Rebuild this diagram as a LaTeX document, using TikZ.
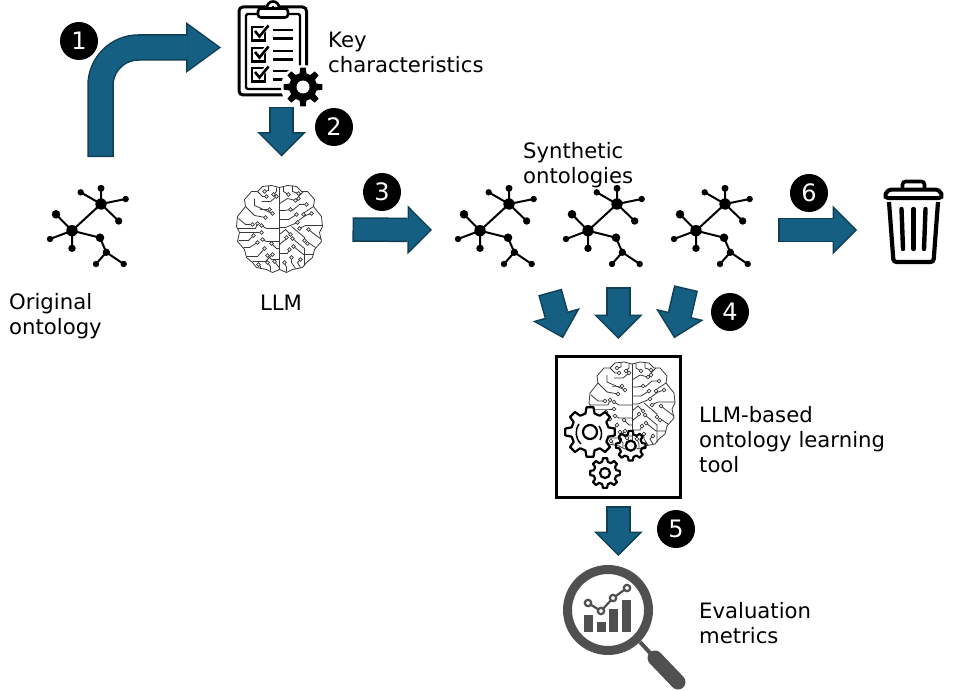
\documentclass[tikz,border=0pt]{standalone}
\usepackage{fontspec}
\setmainfont{DejaVu Sans}
\usepackage{xcolor}
\definecolor{FlowBlue}{HTML}{156082}
\definecolor{FlowEdge}{HTML}{0F3F55}
\definecolor{LensGray}{HTML}{505050}
\definecolor{WireGray}{HTML}{3A3A3A}
\usetikzlibrary{arrows.meta,positioning}

\tikzset{
  iconbox/.style={inner sep=0pt, outer sep=0pt},
  caption/.style={anchor=west, align=left, inner sep=0pt, font=\fontsize{21.2}{25}\selectfont},
  badge/.style={circle, fill=black, text=white, inner sep=0pt, minimum size=38pt, font=\fontsize{24}{24}\selectfont},
  flowarrow/.style 2 args={draw=FlowBlue, line width=21.5pt, shorten <=#1pt+1.5pt, shorten >=#2pt+2.1pt,
    -{Triangle[length=20.9pt,width=41.8pt,line width=0pt]},
    preaction={draw=FlowEdge, line width=24.5pt, shorten <=#1pt, shorten >=#2pt,
      -{Triangle[length=24.5pt,width=49pt,line width=0pt]}}},
  bentarrow/.style 2 args={draw=FlowBlue, line width=23.5pt, rounded corners=38pt, shorten <=#1pt+1.5pt, shorten >=#2pt+2.5pt,
    -{Triangle[length=31pt,width=45.2pt,line width=0pt]},
    preaction={draw=FlowEdge, line width=26.5pt, shorten <=#1pt, shorten >=#2pt,
      -{Triangle[length=35pt,width=51pt,line width=0pt]}}},
  wire/.style={WireGray, line width=.8pt},
  pics/ontology/.style={code={
    \draw[line width=2pt] (-15,0.7) -- (14,-26) (-6.3,-37.7) -- (14,-26) -- (14,-41.7) (38.7,-31) -- (14,-26) -- (31.7,-9);
    \draw[line width=2pt] (-31,-15.7) -- (-15,0.7) -- (-37,9) (-15,18.3) -- (-15,0.7) -- (13,7.7) -- (19.3,22.3) -- (9,34) (19.3,22.3) -- (36.7,34);
    \foreach \x/\y/\r in {-15/0.7/5.7, 14/-26/5.7, -6.3/-37.7/3.2, 14/-41.7/3.5, 38.7/-31/3.2, 31.7/-9/3.7,
      -31/-15.7/4.3, -37/9/3.2, -15/18.3/3.7, 13/7.7/4.3, 19.3/22.3/3.7, 9/34/3.2, 36.7/34/3.2}
      \fill (\x,\y) circle (\r pt);
  }},
  pics/brain/.style={code={
    \draw[wire, fill=white, line join=round] (0,-42) -- (-8,-44) -- (-17,-43) -- (-22,-38) -- (-28,-38) -- (-35,-30) -- (-34,-23) -- (-42,-13) -- (-43,-3) -- (-40,3) -- (-42,12) -- (-35,20) -- (-33,28) -- (-27,33) -- (-23,38) -- (-13,40) -- (-7,43) -- (0,40)
      -- (7,43) -- (13,40) -- (23,38) -- (27,33) -- (33,28) -- (35,20) -- (42,12) -- (40,3) -- (43,-3) -- (42,-13) -- (34,-23) -- (35,-30) -- (28,-38) -- (22,-38) -- (17,-43) -- (8,-44) -- cycle;
    \draw[wire] (0,-42) -- (0,40);
    % left half, then right half
    \foreach \ax/\ay/\bx/\by/\cx/\cy in {-22/-38/-17/-33/-13/-33, -11/-44/-11/-39/-15/-38, -3/-42/-3/-38/-6/-35,
      -25/-31/-25/-24/-7/-16, -18/-28/-9/-28/-3/-33, -34/-23/-25/-14/-14/-12, -20/-20/-13/-20/-10/-20,
      -41/-11/-34/-5/-27/-5, -42/-1/-24/-1/-22/-6, 0/-1/-13/-1/-18/-4, -40/3/-26/3/-18/3,
      -41/11/-31/11/-26/6, -36/18/-30/18/-22/13, 0/12/-13/12/-17/10, -33/27/-22/27/-15/19,
      0/19/-3/19/-8/14, -27/32/-14/32/-7/25, 0/30/-8/30/-12/26, -19/39/-19/37/-21/35, -9/41/-9/37/-12/33, 0/38/-2/36/-5/32,
      4/-43/4/-38/9/-35, 13/-44/13/-38/19/-36, 24/-38/19/-33/19/-31, 0/-26/8/-31/16/-29,
      0/-19/5/-19/11/-20, 13/-19/20/-25/27/-25, 34/-23/25/-17/24/-15, 0/-10/9/-10/17/-15, 19/-9/26/-14/32/-16,
      0/-2/6/-2/18/-7, 43/-4/26/-4/20/-1, 0/5/6/0/11/5, 12/-3/25/8/25/11, 42/10/34/4/29/0,
      36/18/30/14/28/14, 0/15/6/10/7/8, 34/25/24/25/14/17, 0/24/8/24/10/20, 25/36/25/19/13/9, 16/39/12/33/12/28,
      7/42/7/38/5/33, 21/38/18/33/21/30}
      { \draw[wire] (\ax,\ay) -- (\bx,\by) -- (\cx,\cy); \draw[wire, fill=white] (\cx,\cy) circle (1.9pt); }
  }},
  pics/gear/.style n args={3}{code={
    \path[pic actions, line join=round] (-14:#2) \foreach \a in {0,45,...,315} { -- ({\a-14}:#2) -- ({\a-8}:#1) -- ({\a+8}:#1) -- ({\a+14}:#2) } -- cycle;
    \path[pic actions, fill=white] (0,0) circle (#3pt);
  }},
  pics/checklist/.style={code={
    \draw[line width=3pt, rounded corners=4pt] (-42.5,-46.5) rectangle (25,41.5);
    \draw[line width=2.4pt, rounded corners=1.5pt] (-35.5,-39.5) rectangle (18.5,35.5);
    \draw[line width=2.6pt, fill=white] (-8.5,-46) circle (6pt);
    \draw[line width=2.6pt, fill=white, rounded corners=3pt] (-23.5,-45) rectangle (6.5,-36);
    \fill (-8.5,-46) circle (1.8pt);
    \foreach \y in {-26.5,-5.5,14.5} {
      \draw[line width=2.5pt] (-29.5,\y) rectangle (-16.5,\y+13.5);
      \draw[white, line width=4.5pt] (-13,\y-2) -- (-20,\y+6);
      \draw[line width=2.6pt] (-26.5,\y+4) -- (-22,\y+9.5) -- (-13,\y-1.5);
      \draw[line width=2.6pt] (-8.5,\y+3) -- (11.5,\y+3) (-8.5,\y+11.3) -- (11.5,\y+11.3);
    }
    \fill[white] (21.5,33.5) circle (22pt);
    \pic[fill=black] at (21.5,33.5) {gear={19.5}{14}{6.5}};
  }},
  pics/trashcan/.style={code={
    \draw[line width=3.6pt, rounded corners=3pt] (-11,-42) -- (-11,-48.5) -- (11,-48.5) -- (11,-42);
    \draw[line width=4pt, rounded corners=4pt, fill=white] (-29.5,-32) -- (-26,-40.5) -- (26,-40.5) -- (29.5,-32) -- cycle;
    \draw[line width=4.2pt, rounded corners=3pt] (-24.5,-28) -- (-20,32) -- (20,32) -- (24.5,-28);
    \foreach \t/\b in {-12/-10.5, 0/0, 12/10.5}
      \draw[line width=4.4pt, line cap=round] (\t,-21) -- (\b,19);
  }},
  pics/lens/.style={code={
    \draw[LensGray, line width=9pt] (-17,-17) circle (40.5pt);
    \draw[LensGray, line width=4pt] (15,15) -- (27,28);
    \draw[LensGray, line width=15pt, line cap=round] (30,31) -- (53,55);
    \foreach \l/\t in {-41/-12, -28/-5, -16/-18, -3/-27}
      \fill[LensGray] (\l,\t) rectangle (\l+9,5);
    \draw[LensGray, line width=2.2pt] (-37,-24) -- (-24,-16) -- (-12,-29) -- (2,-39);
    \foreach \x/\y in {-37/-24, -24/-16, -12/-29, 2/-39}
      \draw[LensGray, line width=2.2pt, fill=white] (\x,\y) circle (3.2pt);
  }}
}

\begin{document}
\begin{tikzpicture}[x=1pt, y=-1pt]
  \useasboundingbox (0,0) rectangle (957,690);
  % icons
  \node[iconbox, minimum width=80pt, minimum height=90pt] (orig) at (87,230) {};
  \node[iconbox, minimum width=87pt, minimum height=103pt] (kc) at (281.5,53.5) {};
  \node[iconbox, minimum width=86pt, minimum height=88pt] (llm) at (279.5,229.5) {};
  \node[iconbox, minimum width=80pt, minimum height=90pt] (syn1) at (495,230) {};
  \node[iconbox, minimum width=80pt, minimum height=90pt] (syn2) at (603,230) {};
  \node[iconbox, minimum width=80pt, minimum height=90pt] (syn3) at (711,230) {};
  \node[iconbox, minimum width=63pt, minimum height=100pt] (bin) at (913.5,230) {};
  \node[draw, line width=3pt, minimum width=123.7pt, minimum height=141pt, inner sep=0pt] (tool) at (618.3,427) {};
  \node[iconbox, minimum width=125pt, minimum height=124pt] (metrics) at (625,627) {};

  \pic at (orig) {ontology};
  \pic at (kc) {checklist};
  \pic at (llm) {brain};
  \pic at (syn1) {ontology};
  \pic at (syn2) {ontology};
  \pic at (syn3) {ontology};
  \pic at (bin) {trashcan};
  \pic at (metrics) {lens};

  \pic at (632,406) {brain};
  \pic[draw=black, fill=white, line width=2.2pt] at (590,432) {gear={25}{19}{7}};
  \draw[line width=1.5pt] (579,424) to[bend right=40] (581,444);
  \draw[line width=1.5pt] (599,426) to[bend left=30] (600,440);
  \pic[draw=black, line width=2.2pt] at (630.7,445.7) {gear={15}{11.5}{5}};
  \pic[draw=black, fill=white, line width=2.2pt] at (605,473) {gear={15}{11.5}{5}};

  % flow
  \draw[bentarrow={28}{17}] ([xshift=13.5pt]orig.north) |- ([yshift=6pt]kc.west);
  \draw[flowarrow={2}{29}] (kc.south) -- (kc.south |- llm.north);
  \draw[flowarrow={30}{23}] (llm.east) -- (syn1.west);
  \draw[flowarrow={27}{25}] (syn3.east) -- (bin.west);
  \draw[flowarrow={17.6}{17.4}] ([xshift=50.3pt]syn1.south) -- ([xshift=-50.7pt]tool.north);
  \draw[flowarrow={12}{16}] (syn2.south -| tool.north) -- (tool.north);
  \draw[flowarrow={13.4}{17.2}] ([xshift=-21.9pt]syn3.south) -- ([xshift=52pt]tool.north);
  \draw[flowarrow={7}{9}] (tool.south) -- (tool.south |- metrics.north);

  % step numbers
  \node[badge] (one) at (79,41) {1};
  \node[badge] (two) at (334,127) {2};
  \node[badge] (three) at (382,192) {3};
  \node[badge] (four) at (730,312) {4};
  \node[badge] (five) at (676,529) {5};
  \node[badge] (six) at (809,193) {6};

  % labels
  \node[caption] (origlabel) at (9,316.5) {Original\\ontology};
  \node[caption, anchor=center] (llmlabel) at (281,303) {LLM};
  \node[caption] (kclabel) at (328,52) {Key\\characteristics};
  \node[caption] (synlabel) at (523,165.5) {Synthetic\\ontologies};
  \node[caption] (toollabel) at (699,440) {LLM-based\\ontology learning\\tool};
  \node[caption] (metricslabel) at (699,623) {Evaluation\\metrics};
\end{tikzpicture}
\end{document}
